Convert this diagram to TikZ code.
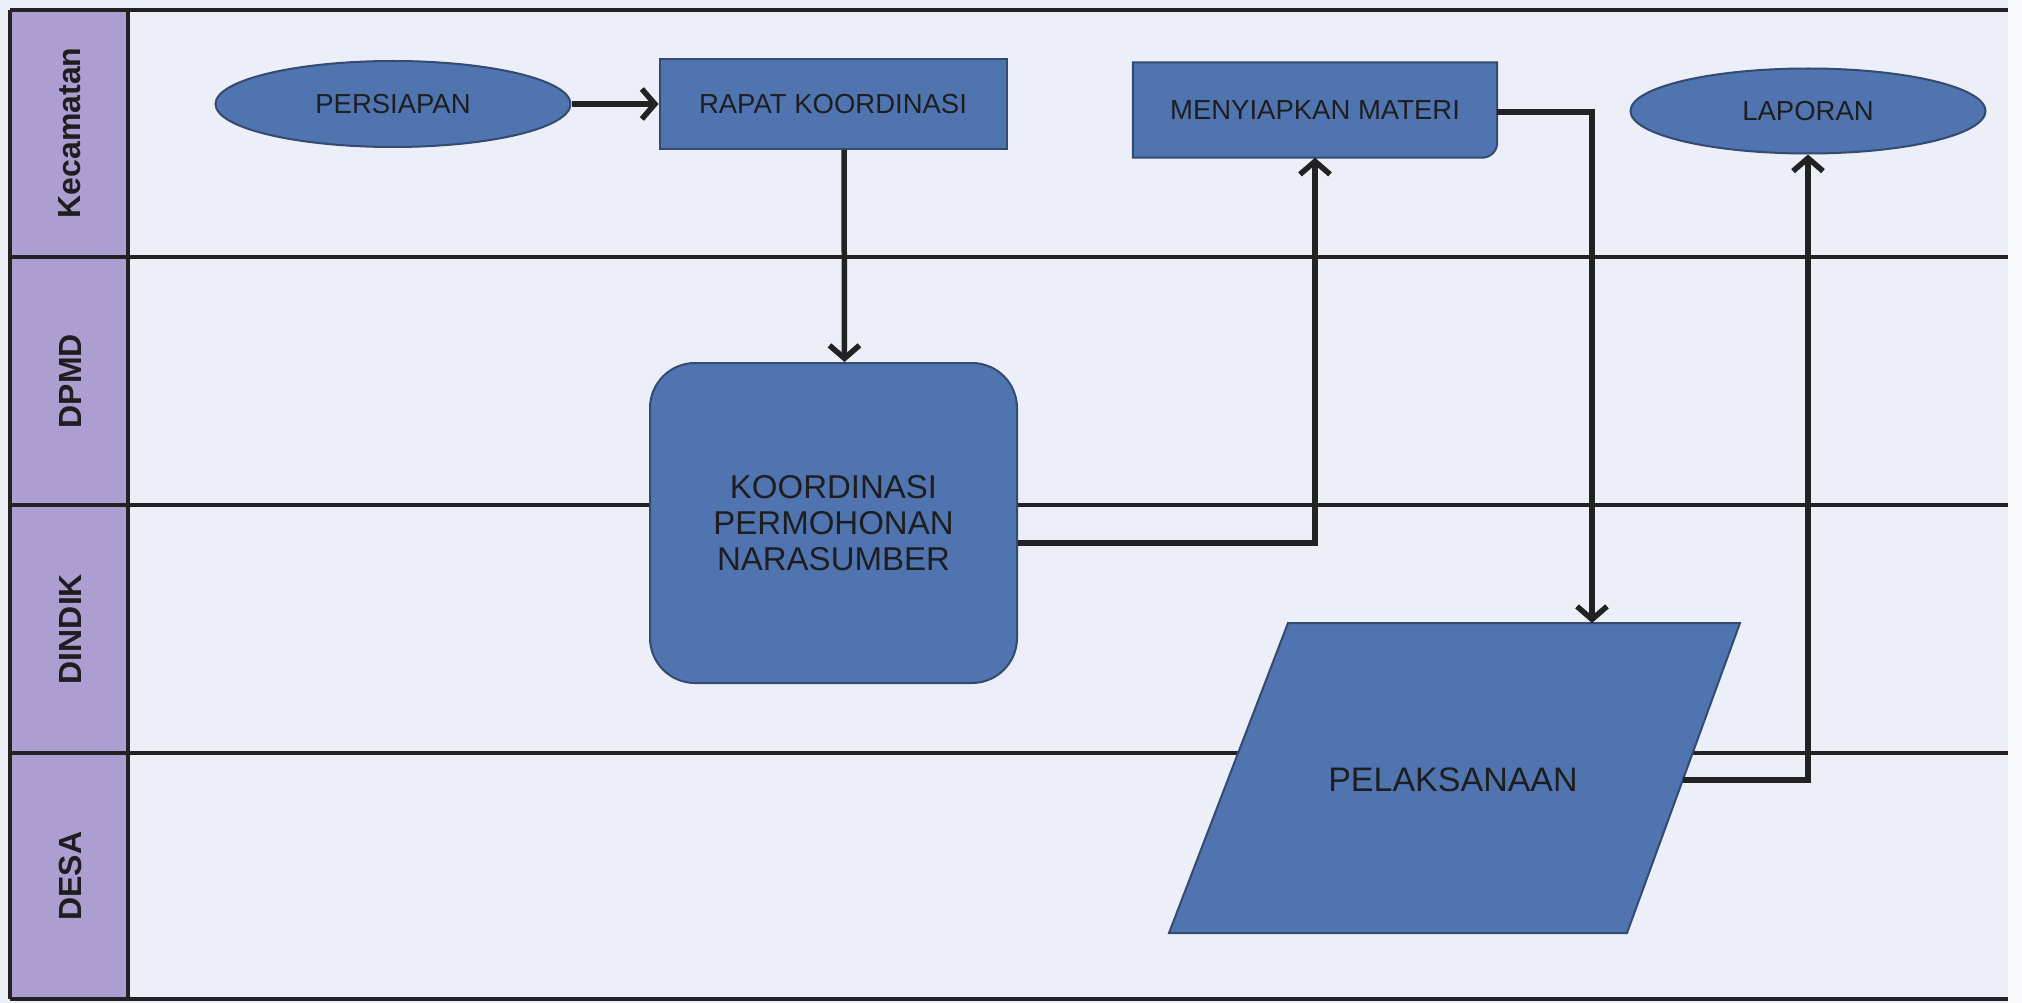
\documentclass[tikz,border=0pt]{standalone}
\usepackage{fontspec}
\setmainfont{Liberation Sans}
\usetikzlibrary{arrows.meta,shapes.geometric,calc}
\definecolor{bgc}{RGB}{237,239,248}
\definecolor{lanec}{RGB}{172,158,208}
\definecolor{shapec}{RGB}{79,116,176}
\definecolor{shapeb}{RGB}{52,74,112}
\definecolor{linec}{RGB}{34,34,34}
\definecolor{txtc}{RGB}{30,30,32}
\tikzset{
  laneline/.style={line width=4pt, draw=linec},
  lanelabel/.style={rotate=90, font=\bfseries\fontsize{32}{36}\selectfont, text=txtc},
  flowshape/.style={fill=shapec, draw=shapeb, line width=2pt, text=txtc, inner sep=0pt},
  smalltext/.style={font=\fontsize{27.5}{33}\selectfont},
  bigtext/.style={font=\fontsize{33}{36}\selectfont, align=center},
  plain/.style={inner sep=0pt, text=txtc},
  arr/.style={line width=5.5pt, draw=linec, line join=miter,
    -{Straight Barb[length=13pt,width=30pt]}},
}
\begin{document}
\begin{tikzpicture}[x=1pt,y=-1pt]
\useasboundingbox (0,0) rectangle (2022,1003);
% background
\fill[bgc] (0,0) rectangle (2022,1003);
\fill[white!70!bgc] (2008,0) rectangle (2022,1003);
% label column
\fill[lanec] (12,10) rectangle (127,999);
% lane lines
\draw[laneline] (10,10) -- (2008,10);
\draw[laneline] (10,257) -- (2008,257);
\draw[laneline] (10,505) -- (2008,505);
\draw[laneline] (10,753) -- (2008,753);
\draw[laneline] (10,999) -- (2008,999);
\draw[laneline] (10,10) -- (10,999);
\draw[laneline] (128,10) -- (128,999);
% lane labels
\node[lanelabel] (lkec) at (70,133) {Kecamatan};
\node[lanelabel] (ldpmd) at (70,381) {DPMD};
\node[lanelabel] (ldindik) at (70,629) {DINDIK};
\node[lanelabel] (ldesa) at (70,876) {DESA};
% shapes
\node[flowshape, ellipse, smalltext, minimum width=355pt, minimum height=86pt] (PERS) at (393,104) {PERSIAPAN};
\node[flowshape, rectangle, smalltext, minimum width=347pt, minimum height=90pt] (RAPAT) at (833,104) {RAPAT KOORDINASI};
\node[flowshape, rectangle, rounded corners=45pt, bigtext, minimum width=367pt, minimum height=320pt] (KOORD) at (833.5,523) {KOORDINASI\\PERMOHONAN\\NARASUMBER};
% MENYIAPKAN MATERI (one rounded corner)
\node[plain, smalltext, minimum width=364pt, minimum height=95pt] (MENY) at (1315,110) {};
\filldraw[fill=shapec, draw=shapeb, line width=2pt]
  (MENY.north west) -- (MENY.north east) -- ([yshift=15pt]MENY.south east)
  arc[start angle=0, end angle=-90, radius=15pt] -- (MENY.south west) -- cycle;
\node[plain, smalltext] (MENYT) at (MENY.center) {MENYIAPKAN MATERI};
\node[flowshape, ellipse, smalltext, minimum width=355pt, minimum height=85pt] (LAP) at (1808,111) {LAPORAN};
% PELAKSANAAN parallelogram
\coordinate (ptl) at (1288,623);
\coordinate (ptr) at (1740,623);
\coordinate (pbr) at (1627,933);
\coordinate (pbl) at (1169,933);
\filldraw[fill=shapec, draw=shapeb, line width=2pt] (ptl) -- (ptr) -- (pbr) -- (pbl) -- cycle;
\node[plain, font=\fontsize{34}{38}\selectfont] (PELAK) at (1453,780) {PELAKSANAAN};
\coordinate (ptop) at (1592,623);
\coordinate (pright) at (1683,780);
% connectors
\draw[arr] (PERS.east) -- (RAPAT.west);
\draw[arr] ([xshift=11pt]RAPAT.south) -- ([xshift=11pt]KOORD.north);
\draw[arr] ([yshift=-20pt]KOORD.east) -| (MENY.south);
\draw[arr] ([yshift=-2pt]MENY.east) -| (ptop);
\draw[arr] (pright) -| (LAP.south);
\end{tikzpicture}
\end{document}
